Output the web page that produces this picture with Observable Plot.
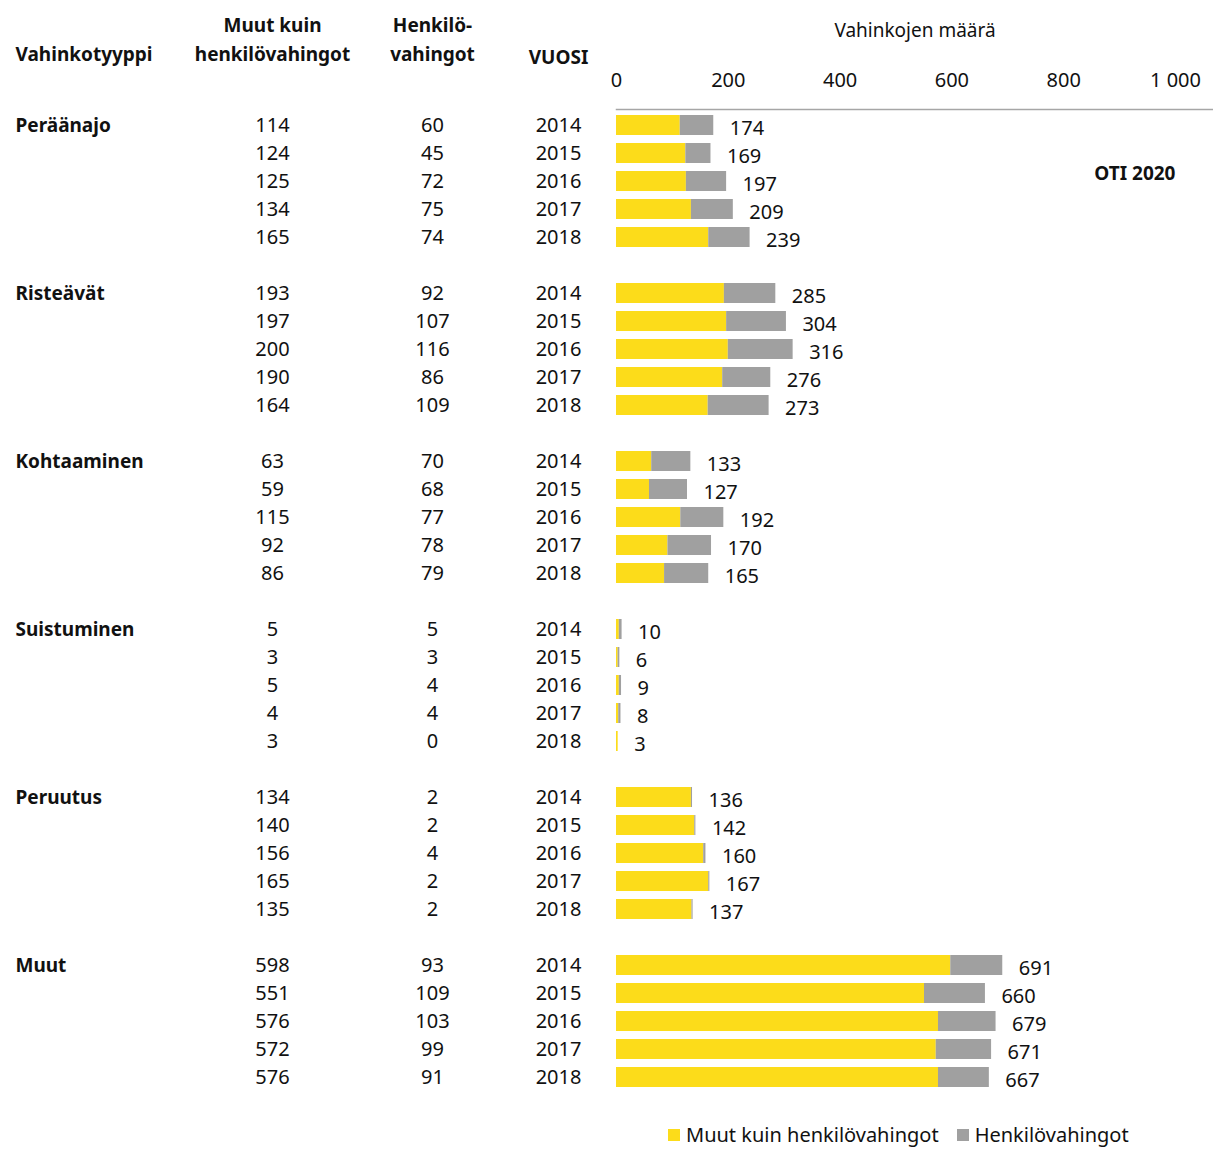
<!DOCTYPE html>
<html>
<head>
<meta charset="utf-8">
<script src="https://cdn.jsdelivr.net/npm/d3@7"></script>
<script src="https://cdn.jsdelivr.net/npm/@observablehq/plot@0.6"></script>
<style>
  body { margin: 0; background: #fff; font-family: "Noto Sans", sans-serif; }
  #legend { display: flex; align-items: center; padding-left: 668px; height: 26px; font-size: 20px; line-height: 26px; color: #111; }
  #legend .sw { width: 12px; height: 12px; display: inline-block; margin-right: 6px; }
  #legend .item { display: flex; align-items: center; margin-right: 18px; }
</style>
</head>
<body>
<div id="chart"></div>
<div id="legend"></div>
<script>
const categories = ["Peräänajo", "Risteävät", "Kohtaaminen", "Suistuminen", "Peruutus", "Muut"];
const years = [2014, 2015, 2016, 2017, 2018];
const muutKuin = [
  [114, 124, 125, 134, 165],
  [193, 197, 200, 190, 164],
  [63, 59, 115, 92, 86],
  [5, 3, 5, 4, 3],
  [134, 140, 156, 165, 135],
  [598, 551, 576, 572, 576]
];
const henkilo = [
  [60, 45, 72, 75, 74],
  [92, 107, 116, 86, 109],
  [70, 68, 77, 78, 79],
  [5, 3, 4, 4, 0],
  [2, 2, 4, 2, 2],
  [93, 109, 103, 99, 91]
];
const totals = [
  [174, 169, 197, 209, 239],
  [285, 304, 316, 276, 273],
  [133, 127, 192, 170, 165],
  [10, 6, 9, 8, 3],
  [136, 142, 160, 167, 137],
  [691, 660, 679, 671, 667]
];
const seriesNames = ["Muut kuin henkilövahingot", "Henkilövahingot"];
const seriesColors = ["#fcdc1a", "#a0a0a0"];
const xTicks = [0, 200, 400, 600, 800, 1000];
const note = "OTI 2020";

// build tables
const rows = [];
const domain = [];
categories.forEach((c, i) => {
  years.forEach((y, j) => {
    const key = c + "|" + y;
    domain.push(key);
    rows.push({cat: c, year: y, key, muut: muutKuin[i][j], henk: henkilo[i][j], total: totals[i][j], first: j === 0});
  });
  if (i < categories.length - 1) domain.push("sp" + i);
});
const long = rows.flatMap(r => [
  {key: r.key, type: seriesNames[0], value: r.muut},
  {key: r.key, type: seriesNames[1], value: r.henk}
]);
const fmt = d => d3.format(",")(d).replace(/,/g, " ");

const headers = [
  {t: "Vahinkotyyppi", dx: -601, dy: -58, anchor: "start"},
  {t: "Muut kuin\nhenkilövahingot", dx: -344, dy: -72, anchor: "middle"},
  {t: "Henkilö-\nvahingot", dx: -184, dy: -72, anchor: "middle"},
  {t: "VUOSI", dx: -58, dy: -55, anchor: "middle"}
];
const notes = [{text: note, x: xTicks[xTicks.length - 1], key: categories[0] + "|" + years[2]}];

const chart = Plot.plot({
  width: 1213,
  height: 1122,
  marginLeft: 616,
  marginRight: 0,
  marginTop: 109,
  marginBottom: 28,
  style: {fontFamily: "'Noto Sans', sans-serif", fontSize: "20px", color: "#111", background: "#fff"},
  x: {domain: [0, 1068], axis: null},
  y: {domain, range: [109, 1094], paddingInner: 0.28, paddingOuter: 0.14, axis: null},
  color: {domain: seriesNames, range: seriesColors},
  marks: [
    Plot.frame({anchor: "top", stroke: "#a6a6a6", strokeWidth: 1.5}),
    Plot.axisX({anchor: "top", ticks: xTicks, tickSize: 0, tickPadding: 23, tickFormat: fmt, fontSize: 20, label: null}),
    Plot.text(["Vahinkojen määrä"], {frameAnchor: "top", dy: -79, fontSize: 19, letterSpacing: 0.6, lineAnchor: "middle"}),
    Plot.barX(long, Plot.stackX({x: "value", y: "key", fill: "type"})),
    Plot.text(rows, {x: "total", y: "key", text: d => String(d.total), textAnchor: "start", dx: 16, dy: 3, fontSize: 20}),
    Plot.text(rows.filter(d => d.first), {y: "key", text: "cat", frameAnchor: "left", dx: -601, textAnchor: "start", fontWeight: "bold", fontSize: 19}),
    Plot.text(rows, {y: "key", text: d => String(d.muut), frameAnchor: "left", dx: -344, textAnchor: "middle", fontSize: 20}),
    Plot.text(rows, {y: "key", text: d => String(d.henk), frameAnchor: "left", dx: -184, textAnchor: "middle", fontSize: 20}),
    Plot.text(rows, {y: "key", text: d => String(d.year), frameAnchor: "left", dx: -58, textAnchor: "middle", fontSize: 20}),
    ...headers.map(h => Plot.text([h.t], {frameAnchor: "top-left", dx: h.dx, dy: h.dy, textAnchor: h.anchor, lineAnchor: "middle", lineHeight: 1.5, fontWeight: "bold", fontSize: 19})),
    Plot.text(notes, {x: "x", y: "key", text: "text", dy: -8, textAnchor: "end", fontWeight: "bold", fontSize: 19})
  ]
});
document.getElementById("chart").appendChild(chart);

const legend = document.getElementById("legend");
seriesNames.forEach((n, i) => {
  const item = document.createElement("span");
  item.className = "item";
  item.innerHTML = `<span class="sw" style="background:${seriesColors[i]}"></span>${n}`;
  legend.appendChild(item);
});
</script>
</body>
</html>
